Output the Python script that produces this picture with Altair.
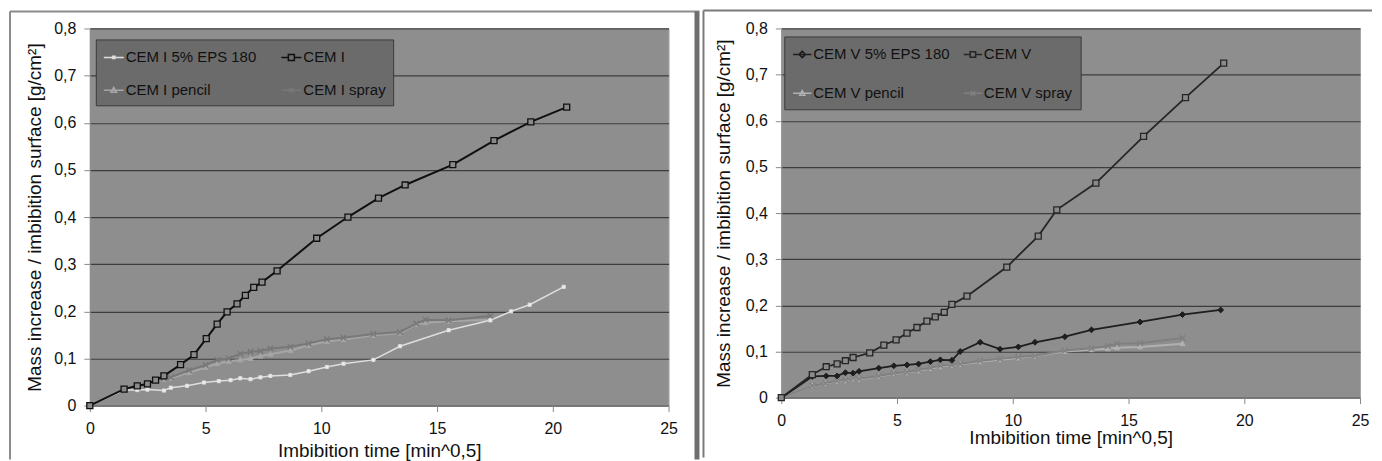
import altair as alt
import pandas as pd

# ---------------- data: left panel (CEM I) ----------------
L_NAMES = ["CEM I 5% EPS 180", "CEM I", "CEM I pencil", "CEM I spray"]

eps_i_x = [0, 1.48, 2.05, 2.49, 3.2, 3.5, 4.2, 4.93, 5.57, 6.08, 6.5, 6.94, 7.37, 7.8,
           8.66, 9.45, 10.24, 10.96, 12.25, 13.4, 15.5, 17.3, 18.2, 19.0, 20.47]
eps_i_y = [0, 0.033, 0.033, 0.034, 0.032, 0.038, 0.042, 0.049, 0.052, 0.054, 0.058, 0.056, 0.06, 0.063,
           0.065, 0.073, 0.082, 0.089, 0.097, 0.126, 0.160, 0.181, 0.2, 0.214, 0.252]

cem_i_x = [0, 1.48, 2.05, 2.49, 2.84, 3.2, 3.92, 4.5, 5.03, 5.5, 5.93, 6.36, 6.72, 7.08,
           7.44, 8.09, 9.8, 11.15, 12.47, 13.62, 15.68, 17.46, 19.05, 20.6]
cem_i_y = [0, 0.035, 0.042, 0.046, 0.054, 0.063, 0.087, 0.108, 0.142, 0.173, 0.199, 0.216, 0.234, 0.251,
           0.262, 0.286, 0.355, 0.4, 0.44, 0.468, 0.511, 0.562, 0.602, 0.633]

treat_i_x = [0, 1.48, 2.05, 2.49, 2.84, 3.2, 3.5, 4.28, 5.0, 5.5, 6.0, 6.5, 6.94, 7.37, 7.8,
             8.66, 9.45, 10.24, 10.96, 12.25, 13.4, 14.1, 14.5, 15.5, 17.3]
pencil_i_y = [0, 0.035, 0.042, 0.046, 0.052, 0.056, 0.058, 0.07, 0.081, 0.089, 0.094, 0.097, 0.1, 0.105, 0.109,
              0.117, 0.128, 0.136, 0.14, 0.149, 0.154, 0.172, 0.176, 0.179, 0.182]
spray_i_y = [0, 0.035, 0.042, 0.046, 0.054, 0.058, 0.06, 0.075, 0.086, 0.097, 0.1, 0.11, 0.114, 0.116, 0.121,
             0.125, 0.132, 0.141, 0.144, 0.152, 0.156, 0.174, 0.182, 0.181, 0.19]

# ---------------- data: right panel (CEM V) ----------------
R_NAMES = ["CEM V 5% EPS 180", "CEM V", "CEM V pencil", "CEM V spray"]

eps_v_x = [0, 1.34, 1.94, 2.41, 2.77, 3.1, 3.36, 4.21, 4.86, 5.43, 5.93, 6.44, 6.87, 7.37,
           7.73, 8.59, 9.45, 10.24, 10.96, 12.25, 13.4, 15.5, 17.33, 18.98]
eps_v_y = [0, 0.046, 0.047, 0.047, 0.054, 0.053, 0.057, 0.064, 0.069, 0.071, 0.073, 0.078, 0.082, 0.081,
           0.1, 0.12, 0.105, 0.11, 0.12, 0.132, 0.147, 0.164, 0.18, 0.19]

cem_v_x = [0, 1.34, 1.94, 2.41, 2.77, 3.1, 3.82, 4.43, 4.96, 5.43, 5.86, 6.29, 6.65, 7.04,
           7.37, 8.02, 9.74, 11.1, 11.9, 13.59, 15.65, 17.46, 19.11]
cem_v_y = [0, 0.05, 0.067, 0.073, 0.08, 0.087, 0.097, 0.114, 0.125, 0.14, 0.152, 0.166, 0.175, 0.185,
           0.202, 0.22, 0.283, 0.35, 0.407, 0.465, 0.566, 0.65, 0.725]

treat_v_x = [0, 1.34, 1.91, 2.41, 2.77, 3.1, 3.36, 4.21, 4.86, 5.43, 5.93, 6.44, 6.87, 7.37, 7.73,
             8.59, 9.45, 10.24, 10.96, 12.25, 13.4, 14.1, 14.5, 15.5, 17.33]
pencil_v_y = [0, 0.026, 0.031, 0.036, 0.037, 0.041, 0.04, 0.046, 0.052, 0.054, 0.058, 0.063, 0.067, 0.07, 0.072,
              0.078, 0.082, 0.086, 0.09, 0.1, 0.104, 0.106, 0.108, 0.11, 0.117]
spray_v_y = [0, 0.026, 0.031, 0.037, 0.038, 0.042, 0.041, 0.047, 0.053, 0.055, 0.06, 0.065, 0.069, 0.071, 0.073,
             0.08, 0.084, 0.088, 0.091, 0.102, 0.107, 0.112, 0.117, 0.118, 0.129]

X_TICKS = [0, 5, 10, 15, 20, 25]
Y_TICKS = [0, 0.1, 0.2, 0.3, 0.4, 0.5, 0.6, 0.7, 0.8]
X_TITLE = "Imbibition time [min^0,5]"
Y_TITLE = "Mass increase / imbibition surface [g/cm²]"


def long_df(names, xs, ys):
    rows = []
    for n, xl, yl in zip(names, xs, ys):
        for a, b in zip(xl, yl):
            rows.append({"series": n, "x": a, "y": b})
    return pd.DataFrame(rows)


left_df = long_df(L_NAMES, [eps_i_x, cem_i_x, treat_i_x, treat_i_x],
                  [eps_i_y, cem_i_y, pencil_i_y, spray_i_y])
right_df = long_df(R_NAMES, [eps_v_x, cem_v_x, treat_v_x, treat_v_x],
                   [eps_v_y, cem_v_y, pencil_v_y, spray_v_y])

# legend entries are laid out column by column: (row1 col1, row2 col1, row1 col2, row2 col2)
L_LEGEND_ORDER = [L_NAMES[0], L_NAMES[2], L_NAMES[1], L_NAMES[3]]
R_LEGEND_ORDER = [R_NAMES[0], R_NAMES[2], R_NAMES[1], R_NAMES[3]]

# ---------------- styles ----------------
PLOT_BG = "#8e8e8e"
SQUARE = "M-1,-1H1V1H-1Z"
DIAMOND = "M0,-1.25L1.25,0L0,1.25L-1.25,0Z"
TRI = "M0,-1.1L1,0.8L-1,0.8Z"
XMARK = "M-1,-1L1,1M1,-1L-1,1"
DOT = "M-1,-1H1V1H-1Z"

LEG_SQUARE = "M-1,0H-0.3M0.3,0H1M-0.3,-0.3H0.3V0.3H-0.3Z"
LEG_DIAMOND = "M-1,0H1M0,-0.35L0.35,0L0,0.35L-0.35,0Z"
LEG_TRI = "M-1,0H1M0,-0.3L0.28,0.2L-0.28,0.2Z"
LEG_X = "M-1,0H1M-0.25,-0.25L0.25,0.25M0.25,-0.25L-0.25,0.25"
LEG_DOT = "M-1,0H1M-0.12,-0.12H0.12V0.12H-0.12Z"

LEFT_STYLE = {
    "CEM I 5% EPS 180": dict(color="#dedede", lw=1.5, shape=DOT, size=10, fill="#eeeeee", sw=1, leg=LEG_DOT),
    "CEM I": dict(color="#101010", lw=2, shape=SQUARE, size=36, fill="#8a8a8a", sw=1.3, leg=LEG_SQUARE),
    "CEM I pencil": dict(color="#a6a6a6", lw=2, shape=TRI, size=25, fill="#a6a6a6", sw=1, leg=LEG_TRI),
    "CEM I spray": dict(color="#787878", lw=2, shape=XMARK, size=30, fill=None, sw=1.5, leg=LEG_X),
}
RIGHT_STYLE = {
    "CEM V 5% EPS 180": dict(color="#1e1e1e", lw=1.8, shape=DIAMOND, size=22, fill="#1e1e1e", sw=1, leg=LEG_DIAMOND),
    "CEM V": dict(color="#262626", lw=1.8, shape=SQUARE, size=36, fill="#8a8a8a", sw=1.3, leg=LEG_SQUARE),
    "CEM V pencil": dict(color="#b0b0b0", lw=2, shape=TRI, size=25, fill="#b0b0b0", sw=1, leg=LEG_TRI),
    "CEM V spray": dict(color="#808080", lw=2, shape=XMARK, size=30, fill=None, sw=1.5, leg=LEG_X),
}
DRAW_ORDER_L = ["CEM I pencil", "CEM I spray", "CEM I 5% EPS 180", "CEM I"]
DRAW_ORDER_R = ["CEM V pencil", "CEM V spray", "CEM V 5% EPS 180", "CEM V"]

Y_LABEL_EXPR = "datum.value == 0 ? '0' : replace(format(datum.value, '.1f'), '.', ',')"


def make_panel(df, names, style, order, W, H, legend_kw, ytitle_pad, xtitle_pad, frame):
    xs = alt.Scale(domain=[0, 25], nice=False, zero=True)
    ys = alt.Scale(domain=[0, 0.8], nice=False)
    xaxis = alt.Axis(values=X_TICKS, title=X_TITLE, grid=False, tickSize=6, labelPadding=9,
                     titlePadding=xtitle_pad, labelFontSize=16, titleFontSize=19,
                     titleFontWeight="normal", domainColor="#8a8a8a", tickColor="#8a8a8a",
                     labelColor="#111111", titleColor="#111111", labelFlush=False)
    yaxis = alt.Axis(values=Y_TICKS, title=Y_TITLE, grid=True, gridColor="#3c3c3c", gridWidth=1.2,
                     tickSize=6, labelPadding=8, titlePadding=ytitle_pad, labelFontSize=16,
                     titleFontSize=19, titleFontWeight="normal", labelExpr=Y_LABEL_EXPR,
                     domainColor="#8a8a8a", tickColor="#8a8a8a", labelColor="#111111",
                     titleColor="#111111")
    X = alt.X("x:Q", scale=xs, axis=xaxis)
    Y = alt.Y("y:Q", scale=ys, axis=yaxis)
    colors = [style[n]["color"] for n in names]
    cscale = alt.Scale(domain=names, range=colors)

    one = pd.DataFrame({"k": [0]})
    fx1, fx2, fy1, fy2, fcol, dx, dw = frame
    frames = [
        alt.Chart(one).mark_rule(color=fcol, strokeWidth=2).encode(
            x=alt.value(fx1), y=alt.value(fy1), y2=alt.value(fy2)),
        alt.Chart(one).mark_rule(color=fcol, strokeWidth=2).encode(
            x=alt.value(fx1), x2=alt.value(fx2), y=alt.value(fy1)),
    ]
    if dx is not None:
        frames.append(alt.Chart(one).mark_rule(color="#6e6e6e", strokeWidth=dw).encode(
            x=alt.value(dx), y=alt.value(fy1), y2=alt.value(fy2)))

    line_layers = []
    point_layers = []
    for n in order:
        st = style[n]
        line_layers.append(
            alt.Chart(df).transform_filter(alt.datum.series == n).mark_line(
                color=st["color"], strokeWidth=st["lw"]).encode(x=X, y=Y, order=alt.Order("x:Q")))
        if st["fill"] is None:
            pm = alt.Chart(df).transform_filter(alt.datum.series == n).mark_point(
                shape=st["shape"], size=st["size"], filled=False, stroke=st["color"],
                strokeWidth=st["sw"], opacity=1)
        else:
            pm = alt.Chart(df).transform_filter(alt.datum.series == n).mark_point(
                shape=st["shape"], size=st["size"], filled=True, fill=st["fill"], stroke=st["color"],
                strokeWidth=st["sw"], opacity=1, fillOpacity=1)
        point_layers.append(pm.encode(x=X, y=Y))

    leg = alt.Legend(title=None, orient="none", columns=2, fillColor="#6b6b6b", strokeColor="#3a3a3a",
                     labelFontSize=15, labelColor="#111111", symbolStrokeWidth=1.5,
                     labelOffset=1, **legend_kw)
    legend_layer = alt.Chart(df).transform_filter("datum.x < 0").mark_point(filled=False, opacity=1).encode(
        x=X, y=Y,
        color=alt.Color("series:N", scale=cscale, legend=leg),
        shape=alt.Shape("series:N", scale=alt.Scale(domain=names, range=[style[n]["leg"] for n in names]), legend=leg),
    )

    return alt.layer(*frames, *line_layers, *point_layers, legend_layer).properties(width=W, height=H)


LW, LH = 580, 378
RW, RH = 580, 370

left = make_panel(
    left_df, L_LEGEND_ORDER, LEFT_STYLE, DRAW_ORDER_L, LW, LH,
    dict(legendX=6, legendY=11, padding=7, rowPadding=14, columnPadding=22, gridAlign="each",
         symbolSize=400),
    ytitle_pad=9, xtitle_pad=5,
    frame=(-80, LW + 31, -17, LH + 54, "#8c8c8c", LW + 28.5, 5),
)
right = make_panel(
    right_df, R_LEGEND_ORDER, RIGHT_STYLE, DRAW_ORDER_R, RW, RH,
    dict(legendX=3, legendY=8, padding=8, rowPadding=21, columnPadding=10, gridAlign="each",
         symbolSize=340,
         labelExpr="datum.label == 'CEM V spray' ? datum.label + '            ' : datum.label"),
    ytitle_pad=12, xtitle_pad=0,
    frame=(-78, RW + 12, -18, RH + 60, "#7a7a7a", None, 0),
)

chart = alt.hconcat(left, right, spacing=0).resolve_scale(
    color="independent", shape="independent", x="independent", y="independent"
).resolve_legend(color="independent", shape="independent").properties(padding=0).configure(
    font="Liberation Sans", background="white"
).configure_view(fill=PLOT_BG, stroke="#a8a8a8", strokeWidth=1)

chart.save("out.html", embed_options={"renderer": "svg", "actions": False})
